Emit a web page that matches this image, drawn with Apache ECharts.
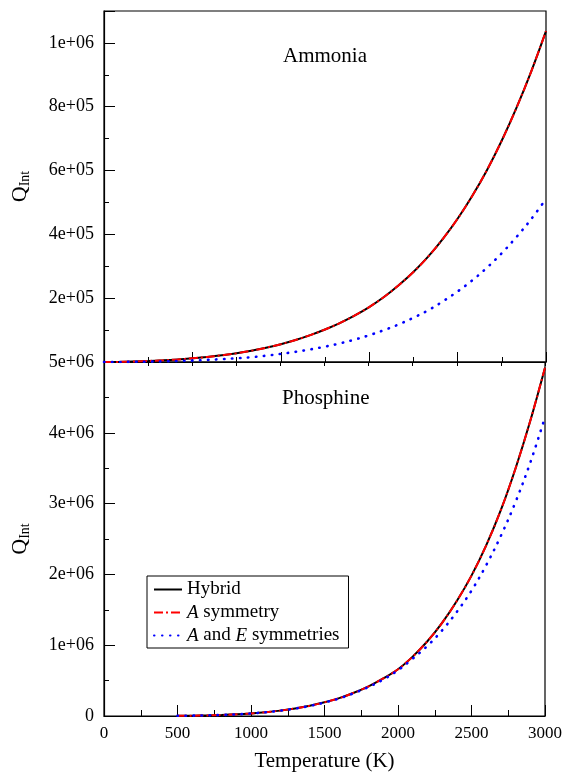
<!DOCTYPE html>
<html>
<head>
<meta charset="utf-8">
<script src="https://cdn.jsdelivr.net/npm/echarts@6/dist/echarts.min.js"></script>
<style>
  html, body { margin: 0; padding: 0; background: #fff; }
  #chart { width: 565px; height: 773px; }
</style>
</head>
<body>
<div id="chart"></div>
<script>
// temperatures (K)
const tempsNH3 = [0, 100, 200, 300, 400, 500, 600, 700, 800, 900, 1000, 1100, 1200, 1300, 1400, 1500,
  1600, 1700, 1800, 1900, 2000, 2100, 2200, 2300, 2400, 2500, 2600, 2700, 2800, 2900, 3000]
const tempsPH3 = [500, 600, 700, 800, 900, 1000, 1100, 1200, 1300, 1400, 1500, 1600, 1700, 1800,
  1900, 2000, 2100, 2200, 2300, 2400, 2500, 2600, 2700, 2800, 2900, 3000]

// Ammonia partition function
const nh3Hybrid = [1, 300, 1500, 3130, 5150, 7940, 11600, 15800, 20900, 27200, 35200, 44800, 55900,
  68900, 84200, 101800, 121900, 145200, 172100, 203600, 240500, 282000, 330000, 386000, 449000,
  521000, 602000, 694000, 797000, 911000, 1037000]
const nh3ASym = [1, 300, 1500, 3130, 5150, 7940, 11600, 15800, 20900, 27200, 35200, 44800, 55900,
  68900, 84200, 101800, 121900, 145200, 172100, 203600, 240500, 282000, 330000, 386000, 449000,
  521000, 602000, 694000, 797000, 911000, 1037000]
const nh3AESym = [1, 100, 500, 1100, 2000, 3200, 4500, 6600, 9000, 11800, 15000, 19850, 25500,
  31900, 39400, 48100, 58200, 70000, 83800, 99800, 117700, 138600, 162000, 190000, 221000,
  256000, 296000, 341000, 392000, 448000, 511000]

// Phosphine partition function
const ph3Hybrid = [2600, 4800, 8500, 14300, 23000, 36000, 53000, 76000, 106000, 144000, 193000,
  252000, 328000, 419000, 530000, 660000, 839000, 1056000, 1316000, 1624000, 1983000, 2410000,
  2910000, 3500000, 4170000, 4920000]
const ph3ASym = [2600, 4800, 8500, 14300, 23000, 36000, 53000, 76000, 106000, 144000, 193000,
  252000, 328000, 419000, 530000, 660000, 839000, 1056000, 1316000, 1624000, 1983000, 2410000,
  2910000, 3500000, 4170000, 4920000]
const ph3AESym = [2600, 4800, 8500, 14300, 23000, 36000, 53000, 75500, 105000, 142000, 190000,
  248000, 322000, 410000, 515000, 645000, 810000, 990000, 1210000, 1470000, 1770000, 2130000,
  2545000, 3025000, 3580000, 4220000]

const seriesNames = ['Hybrid', 'A symmetry', 'A and E symmetries']

const pairs = (xs, ys) => xs.map((x, i) => [x, ys[i]])

const sci = v => {
  if (v === 0) return '0'
  return v.toExponential(0).replace(/e([+-])(\d)$/, 'e$10$2')
}

const font = 'Liberation Serif'

const styles = [
  { color: '#000', width: 2, type: 'solid' },
  { color: '#f00', width: 2, type: [9, 3, 2, 3] },
  { color: '#00f', width: 2.6, type: [0.5, 7.5], cap: 'round' }
]

const makeSeries = (name, idx, data, gi) => ({
  name: name,
  type: 'line',
  xAxisIndex: gi,
  yAxisIndex: gi,
  data: data,
  symbol: 'none',
  showSymbol: false,
  smooth: 0.35,
  z: 2 + idx,
  lineStyle: styles[idx],
  itemStyle: { color: styles[idx].color }
})

const chart = echarts.init(document.getElementById('chart'))

const yName = {
  name: 'Q{s|Int}',
  nameLocation: 'middle',
  nameRotate: 90,
  nameGap: 72,
  nameTextStyle: {
    color: '#000', fontFamily: font, fontSize: 22,
    rich: { s: { fontFamily: font, fontSize: 14, color: '#000', verticalAlign: 'bottom', padding: [9, 0, 0, 0] } }
  }
}

const yLabel = { margin: 10, formatter: sci, color: '#000', fontFamily: font, fontSize: 18 }

const option = {
  animation: false,
  backgroundColor: '#fff',
  title: [
    { text: 'Ammonia', left: 278, top: 41, textStyle: { color: '#000', fontFamily: font, fontSize: 21, fontWeight: 'normal' } },
    { text: 'Phosphine', left: 277, top: 383, textStyle: { color: '#000', fontFamily: font, fontSize: 21, fontWeight: 'normal' } }
  ],
  legend: {
    data: seriesNames,
    orient: 'vertical',
    left: 147,
    top: 576,
    itemWidth: 28,
    itemHeight: 14,
    itemGap: 4,
    padding: [4, 9, 3, 6],
    borderColor: '#000',
    borderWidth: 1,
    backgroundColor: '#fff',
    itemStyle: { opacity: 0 },
    formatter: name => {
      if (name === 'A symmetry') return '{i|A} symmetry'
      if (name === 'A and E symmetries') return '{i|A} and {i|E} symmetries'
      return name
    },
    textStyle: {
      color: '#000', fontFamily: font, fontSize: 19,
      rich: { i: { fontStyle: 'italic', fontFamily: font, fontSize: 19, color: '#000' } }
    }
  },
  grid: [
    { left: 104, width: 442, top: 11, height: 351, show: true, borderColor: '#000', borderWidth: 1.2 },
    { left: 104, width: 442, top: 362, height: 354, show: true, borderColor: '#000', borderWidth: 1.2 }
  ],
  xAxis: [
    {
      gridIndex: 0, type: 'value', min: 0, max: 3000, interval: 600,
      axisLine: { lineStyle: { color: '#000', width: 1.2 } },
      axisTick: { inside: true, length: 10, lineStyle: { color: '#000' } },
      minorTick: { show: true, splitNumber: 2, length: 5, lineStyle: { color: '#000' } },
      axisLabel: { show: false },
      splitLine: { show: false }
    },
    {
      gridIndex: 1, type: 'value', min: 0, max: 3000, interval: 500,
      name: 'Temperature (K)', nameLocation: 'middle', nameGap: 35,
      nameTextStyle: { color: '#000', fontFamily: font, fontSize: 21 },
      axisLine: { lineStyle: { color: '#000', width: 1.2 } },
      axisTick: { inside: true, length: 11, lineStyle: { color: '#000' } },
      minorTick: { show: true, splitNumber: 2, length: 6, lineStyle: { color: '#000' } },
      axisLabel: { margin: 9, color: '#000', fontFamily: font, fontSize: 17, formatter: v => String(v) },
      splitLine: { show: false }
    },
    {
      gridIndex: 1, type: 'value', min: 0, max: 3000, interval: 300, position: 'top',
      axisLine: { lineStyle: { color: '#000', width: 1.2 } },
      axisTick: { inside: true, length: 4, lineStyle: { color: '#000' } },
      axisLabel: { show: false },
      splitLine: { show: false }
    }
  ],
  yAxis: [
    Object.assign({
      gridIndex: 0, type: 'value', min: 0, max: 1100000, interval: 200000,
      axisLine: { lineStyle: { color: '#000', width: 1.2 } },
      axisTick: { inside: true, length: 11, lineStyle: { color: '#000' } },
      minorTick: { show: true, splitNumber: 2, length: 5, lineStyle: { color: '#000' } },
      axisLabel: Object.assign({ showMinLabel: false, showMaxLabel: false }, yLabel),
      splitLine: { show: false }
    }, yName),
    Object.assign({
      gridIndex: 1, type: 'value', min: 0, max: 5000000, interval: 1000000,
      axisLine: { lineStyle: { color: '#000', width: 1.2 } },
      axisTick: { inside: true, length: 11, lineStyle: { color: '#000' } },
      minorTick: { show: true, splitNumber: 2, length: 5, lineStyle: { color: '#000' } },
      axisLabel: yLabel,
      splitLine: { show: false }
    }, yName)
  ],
  series: [
    makeSeries(seriesNames[0], 0, pairs(tempsNH3, nh3Hybrid), 0),
    makeSeries(seriesNames[1], 1, pairs(tempsNH3, nh3ASym), 0),
    makeSeries(seriesNames[2], 2, pairs(tempsNH3, nh3AESym), 0),
    makeSeries(seriesNames[0], 0, pairs(tempsPH3, ph3Hybrid), 1),
    makeSeries(seriesNames[1], 1, pairs(tempsPH3, ph3ASym), 1),
    makeSeries(seriesNames[2], 2, pairs(tempsPH3, ph3AESym), 1)
  ]
}

chart.setOption(option)
window.addEventListener('resize', () => chart.resize())
</script>
</body>
</html>
